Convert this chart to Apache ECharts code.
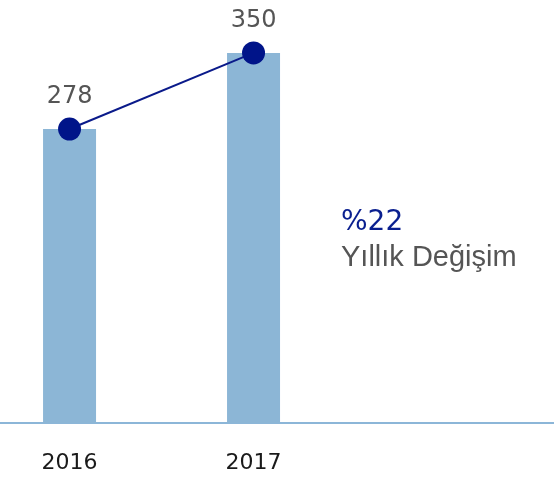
<!DOCTYPE html>
<html>
<head>
<meta charset="utf-8">
<script src="https://cdn.jsdelivr.net/npm/echarts@6/dist/echarts.min.js"></script>
<style>
  html, body { margin: 0; padding: 0; background: #fff; }
  #chart { width: 554px; height: 477px; }
</style>
</head>
<body>
<div id="chart"></div>
<script>
// yillar ve degerler
var years = [2016, 2017]
var values = [278, 350]
var changeText = '%22'
var changeLabel = 'Yıllık Değişim'

var points = years.map(function (y, i) { return [y, values[i]] })

var chart = echarts.init(document.getElementById('chart'))
var option = {
  animation: false,
  title: {
    text: changeText,
    subtext: changeLabel,
    left: 336,
    top: 203,
    itemGap: 4,
    textStyle: {
      fontFamily: 'DejaVu Sans',
      fontSize: 28,
      fontWeight: 'normal',
      color: '#0a1f8f',
      lineHeight: 30
    },
    subtextStyle: {
      fontFamily: 'Liberation Sans',
      fontSize: 29,
      color: '#555',
      lineHeight: 32
    }
  },
  grid: {
    left: 0,
    right: 0,
    top: 0,
    bottom: 54
  },
  xAxis: {
    type: 'value',
    // 2016 -> x=69.5, 2017 -> x=253.5
    min: 2015.622,
    max: 2018.633,
    splitLine: { show: false },
    axisTick: { show: false },
    axisLine: {
      show: true,
      lineStyle: { color: '#8cb6d8', width: 2 }
    },
    axisLabel: {
      customValues: years,
      margin: 29,
      fontFamily: 'DejaVu Sans',
      fontSize: 22,
      color: '#1a1a1a',
      formatter: function (v) { return String(Math.round(v)) }
    }
  },
  yAxis: {
    type: 'value',
    min: 0,
    max: 400,
    show: false,
    splitLine: { show: false }
  },
  series: [
    {
      type: 'bar',
      data: points,
      barWidth: 53,
      itemStyle: { color: '#8cb6d6' },
      z: 1
    },
    {
      type: 'line',
      data: points,
      symbol: 'circle',
      symbolSize: 23,
      lineStyle: { color: '#0a1a8a', width: 2 },
      itemStyle: { color: '#001489' },
      label: {
        show: true,
        position: 'top',
        distance: 9,
        fontFamily: 'DejaVu Sans',
        fontSize: 24,
        color: '#555',
        formatter: function (p) { return p.value[1] }
      },
      z: 3
    }
  ]
}
chart.setOption(option)
</script>
</body>
</html>
